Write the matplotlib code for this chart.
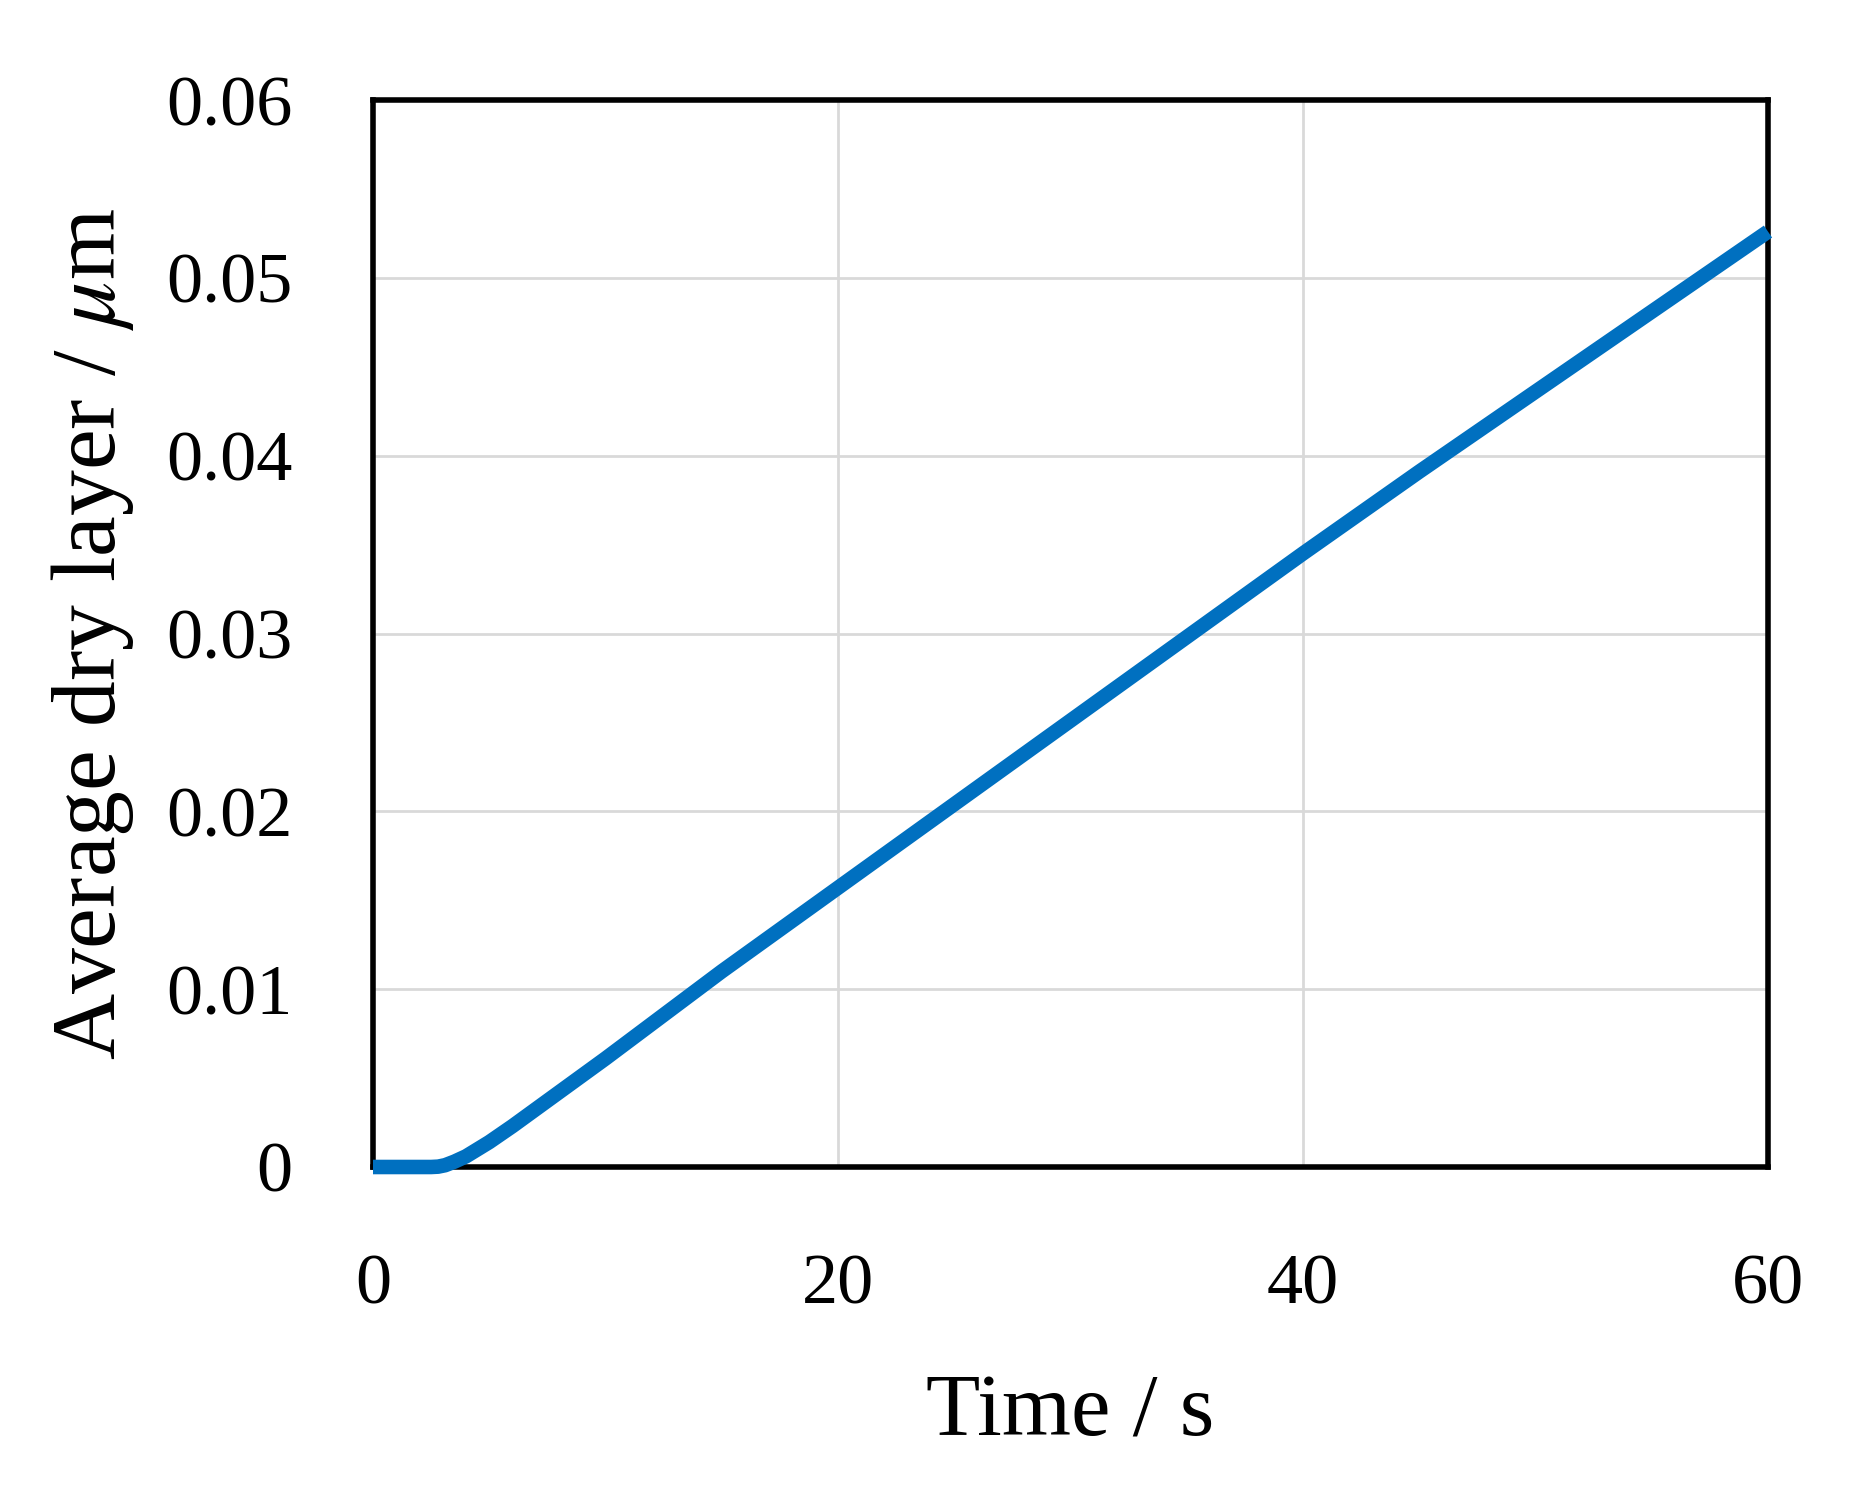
import numpy as np
import matplotlib
matplotlib.use('Agg')
import matplotlib.pyplot as plt

# time (s) and average dry layer thickness (um)
time_s = [0, 1, 2, 2.5, 2.8, 3.1, 3.5, 4, 4.5, 5, 6, 8, 10, 15, 20, 25, 30, 35, 40, 45, 50, 55, 60]
dry_layer = [0, 0, 0, 0, 0.00002, 0.0001, 0.0003, 0.0006, 0.0010, 0.0014, 0.0023, 0.0042, 0.0061,
             0.0110, 0.0157, 0.0204, 0.0251, 0.0298, 0.0345, 0.0391, 0.0436, 0.0481, 0.0526]

x_ticks = [0, 20, 40, 60]
y_ticks = [0, 0.01, 0.02, 0.03, 0.04, 0.05, 0.06]
y_ticklabels = ['0', '0.01', '0.02', '0.03', '0.04', '0.05', '0.06']

plt.rcParams['font.family'] = ['Liberation Serif', 'DejaVu Serif']
plt.rcParams['mathtext.fontset'] = 'stix'

fig = plt.figure(figsize=(18.68, 14.97), dpi=100)
ax = fig.add_axes([373 / 1868, 1 - 1167 / 1497, (1768 - 373) / 1868, (1167 - 100) / 1497])

ax.plot(time_s, dry_layer, color='#0070c0', linewidth=10.5, solid_capstyle='butt',
        solid_joinstyle='round', zorder=3, clip_on=False)

ax.set_xlim(0, 60)
ax.set_ylim(0, 0.06)
ax.set_xticks(x_ticks)
ax.set_yticks(y_ticks)
ax.set_yticklabels(y_ticklabels)
ax.tick_params(axis='both', length=0, labelsize=52)
ax.tick_params(axis='x', pad=62)
ax.tick_params(axis='y', pad=58)

ax.grid(True, color='#d9d9d9', linewidth=2.0)
ax.set_axisbelow(True)
for s in ax.spines.values():
    s.set_linewidth(4.0)
    s.set_color('black')

ax.set_xlabel('Time / s', fontsize=64, labelpad=40)
ax.set_ylabel(r'Average dry layer / $\mu$m', fontsize=66, labelpad=22)

fig.savefig('out.png', dpi=100)
